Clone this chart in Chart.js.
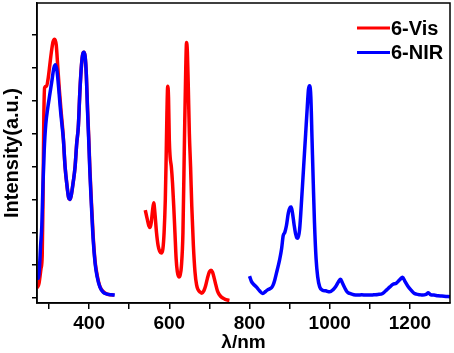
<!DOCTYPE html>
<html>
<head>
<meta charset="utf-8">
<script src="https://cdn.jsdelivr.net/npm/chart.js@4/dist/chart.umd.min.js"></script>
<style>
html,body{margin:0;padding:0;background:#fff;}
#wrap{width:454px;height:353px;position:relative;}
</style>
</head>
<body>
<div id="wrap"><canvas id="c" width="454" height="353"></canvas></div>
<script>
// ---- data ----
const seriesNames = ['6-Vis', '6-NIR'];
const xTickValues = [300, 400, 500, 600, 700, 800, 900, 1000, 1100, 1200];
const yTickValues = [0, 1, 2, 3, 4, 5, 6, 7, 8];

// 6-Vis: excitation part, then emission part (null = gap)
const visX = [270,275,280,283,285,287,289,294,298,302,306,310,314,318,322,326,330,335,340,345,349,352,355,360,365,369,373,377,381,384,387,390,393,396,399,402,405,410,415,420,427,435,445,455,462,
  500,
  540,545,549,552,555,558,561,564,568,572,576,580,584,587,590,592,594,596,598,600,602,605,608,611,614,617,620,624,627,630,634,638,641,643,645,647,650,653,656,660,664,668,672,677,681,686,690,695,700,704,708,712,716,720,725,730,738,745,750];
const visY = [0.3,0.45,0.9,1.3,3.0,5.5,6.4,6.45,6.7,7.1,7.5,7.8,7.88,7.7,7.0,6.3,5.7,5.0,4.0,3.4,3.05,3.0,3.1,3.5,4.0,4.7,5.2,6.3,7.1,7.42,7.48,7.35,6.8,5.8,4.9,3.9,3.1,1.9,1.1,0.7,0.35,0.2,0.12,0.1,0.09,
  null,
  2.68,2.4,2.2,2.15,2.3,2.65,2.9,2.6,2.0,1.6,1.42,1.37,1.5,2.0,3.0,4.2,5.6,6.45,6.1,4.8,4.3,4.0,3.5,2.8,2.0,1.2,0.8,0.64,0.7,0.95,2.0,5.0,7.0,7.78,7.5,6.6,5.0,4.0,2.8,1.6,0.8,0.4,0.25,0.18,0.15,0.22,0.35,0.6,0.8,0.85,0.78,0.6,0.4,0.22,0.1,0.03,-0.03,-0.06,-0.07];

// 6-NIR: excitation part, then emission part (null = gap)
const nirX = [270,273,276,279,282,285,288,292,297,302,307,312,316,320,324,328,332,336,340,345,349,352,355,360,365,369,373,377,381,384,387,390,393,396,399,402,405,410,415,420,427,435,445,455,464,
  600,
  800,805,810,817,825,833,840,845,850,855,859,863,867,871,875,880,884,888,892,897,901,904,907,911,915,918,921,925,930,935,940,944,947,950,953,956,959,962,966,970,975,982,990,1000,1008,1015,1022,1027,1032,1038,1044,1050,1060,1070,1080,1090,1100,1110,1120,1132,1142,1150,1158,1166,1174,1182,1188,1195,1203,1210,1216,1225,1232,1240,1246,1252,1260,1270,1280,1290,1300];
const nirY = [0.6,0.6,0.9,1.6,2.2,3.5,4.5,5.3,5.8,6.2,6.6,7.0,7.1,6.9,6.4,5.8,5.3,4.8,4.0,3.4,3.05,3.0,3.1,3.5,4.0,4.7,5.2,6.3,7.1,7.42,7.48,7.35,6.8,5.7,4.8,3.8,3.0,1.8,1.05,0.65,0.33,0.18,0.12,0.1,0.09,
  null,
  0.67,0.5,0.42,0.34,0.22,0.14,0.2,0.25,0.28,0.32,0.4,0.55,0.75,0.95,1.16,1.5,1.9,2.0,2.2,2.6,2.75,2.77,2.6,2.25,1.95,1.83,1.82,2.1,3.0,4.0,5.0,5.8,6.35,6.46,6.1,4.8,3.5,2.3,1.2,0.65,0.34,0.24,0.22,0.19,0.25,0.35,0.5,0.57,0.45,0.3,0.18,0.14,0.1,0.09,0.1,0.09,0.09,0.1,0.11,0.14,0.25,0.34,0.42,0.45,0.55,0.63,0.5,0.36,0.24,0.15,0.12,0.1,0.09,0.11,0.16,0.1,0.09,0.07,0.06,0.05,0.04];

const toPoints = (xs, ys) => xs.map((x, i) => ({x: x, y: ys[i]}));

const FONT = 'Arial, "Liberation Sans", sans-serif';
Chart.defaults.font.family = FONT;
Chart.defaults.color = '#000';

const framePlugin = {
  id: 'frameAndLegend',
  afterDraw(chart) {
    const ctx = chart.ctx, a = chart.chartArea;
    ctx.save();
    ctx.strokeStyle = '#000';
    ctx.lineWidth = 1.5;
    ctx.strokeRect(a.left, a.top, a.right - a.left, a.bottom - a.top);
    // legend
    const rows = [0, 1];
    ctx.font = 'bold 20px ' + FONT;
    ctx.textBaseline = 'middle';
    ctx.textAlign = 'left';
    rows.forEach((r) => {
      const ds = chart.data.datasets.find(d => d.label === seriesNames[r]);
      const y = 28 + r * 24.5;
      ctx.strokeStyle = ds.borderColor;
      ctx.lineWidth = 3;
      ctx.beginPath();
      ctx.moveTo(357, y);
      ctx.lineTo(390, y);
      ctx.stroke();
      ctx.fillStyle = '#000';
      ctx.fillText(ds.label, 391, y + 1);
    });
    ctx.restore();
  }
};

new Chart(document.getElementById('c'), {
  type: 'line',
  data: {
    datasets: [
      {label: seriesNames[0], data: toPoints(visX, visY), borderColor: '#ff0000', backgroundColor: '#ff0000',
       borderWidth: 3.5, pointRadius: 0, cubicInterpolationMode: 'monotone', spanGaps: false, order: 2},
      {label: seriesNames[1], data: toPoints(nirX, nirY), borderColor: '#0000ff', backgroundColor: '#0000ff',
       borderWidth: 3.5, pointRadius: 0, cubicInterpolationMode: 'monotone', spanGaps: false, order: 1}
    ]
  },
  options: {
    responsive: false,
    animation: false,
    events: [],
    layout: {padding: {top: 3, right: 4, left: 0, bottom: 0}},
    plugins: {legend: {display: false}, tooltip: {enabled: false}},
    scales: {
      x: {
        type: 'linear', min: 270, max: 1300,
        afterBuildTicks: (s) => { s.ticks = xTickValues.map(v => ({value: v})); },
        afterFit: (s) => { s.height = 50; },
        ticks: {
          autoSkip: false, maxRotation: 0, padding: 3,
          font: {size: 19, weight: 'bold'}, color: '#000',
          callback: (v) => (v % 200 === 0 ? String(v) : '')
        },
        grid: {drawOnChartArea: false, drawTicks: true, tickLength: 6, color: '#000', lineWidth: 1.5},
        border: {display: true, color: '#000', width: 1.5},
        title: {display: true, text: 'λ/nm', font: {size: 19, weight: 'bold'}, color: '#000', padding: {top: 0, bottom: -1}}
      },
      y: {
        type: 'linear', min: -0.15, max: 8.98,
        afterBuildTicks: (s) => { s.ticks = yTickValues.map(v => ({value: v})); },
        afterFit: (s) => { s.width = 37; },
        ticks: {display: false},
        grid: {drawOnChartArea: false, drawTicks: true, tickLength: 5, color: '#000', lineWidth: 1.5},
        border: {display: true, color: '#000', width: 1.5},
        title: {display: true, text: 'Intensity(a.u.)', font: {size: 20, weight: 'bold'}, color: '#000', padding: {top: 0, bottom: 0}}
      }
    }
  },
  plugins: [framePlugin]
});
</script>
</body>
</html>
